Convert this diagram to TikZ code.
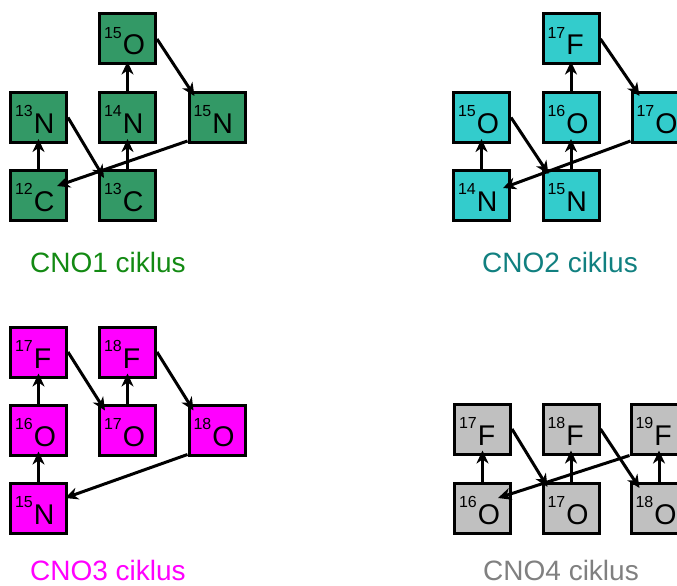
\documentclass[tikz,border=0pt]{standalone}
\usepackage{fontspec}
\setmainfont{Liberation Sans}
\usetikzlibrary{arrows.meta,calc}
\definecolor{boxgreen}{HTML}{339966}
\definecolor{boxcyan}{HTML}{33CCCC}
\definecolor{boxmag}{HTML}{FF00FF}
\definecolor{boxgray}{HTML}{C0C0C0}
\definecolor{labgreen}{HTML}{138A13}
\definecolor{labteal}{HTML}{118080}
\definecolor{labmag}{HTML}{FF00FF}
\definecolor{labgray}{HTML}{808080}
\newcommand\myiso[2]{\makebox[47pt][l]{\raisebox{17pt}{\fontsize{16}{16}\selectfont #1}\kern1pt#2}}
\tikzset{
  nucbox/.style={draw=black, line width=3pt, minimum width=56pt, minimum height=50pt,
    inner sep=0pt, text height=32pt, text depth=0pt, font=\fontsize{28.5}{28.5}\selectfont},
  rx/.style={line width=3pt, -{Stealth[length=13pt,width=12pt,inset=4pt]}},
  cyc/.style={anchor=base, font=\fontsize{28}{28}\selectfont}
}
\begin{document}
\begin{tikzpicture}[x=1pt,y=-1pt]
\useasboundingbox (0,0) rectangle (677,586);
% CNO1
\begin{scope}[every node/.style={nucbox, fill=boxgreen}]
\node (O15a) at (127.5,39) {\myiso{15}{O}};
\node (N13a) at (38.5,117.5) {\myiso{13}{N}};
\node (N14a) at (127.5,117.5) {\myiso{14}{N}};
\node (N15a) at (217,117.5) {\myiso{15}{N}};
\node (C12a) at (38.5,195.5) {\myiso{12}{C}};
\node (C13a) at (127.5,195.5) {\myiso{13}{C}};
\end{scope}
\draw[rx] (C12a.north) -- ($(N13a.south)+(0,-5)$);
\draw[rx] (N13a.east) -- ($(C13a.north west)+(6,9)$);
\draw[rx] (C13a.north) -- ($(N14a.south)+(0,-5)$);
\draw[rx] (N14a.north) -- ($(O15a.south)+(0,-4)$);
\draw[rx] (O15a.east) -- ($(N15a.north west)+(7,5)$);
\draw[rx] ($(N15a.south west)+(0,-3)$) -- ($(C12a.north east)+(-11,17)$);
\node[cyc, text=labgreen] (L1) at (108,272) {CNO1 ciklus};
% CNO2
\begin{scope}[every node/.style={nucbox, fill=boxcyan}]
\node (F17b) at (571,39) {\myiso{17}{F}};
\node (O15b) at (481.5,117.5) {\myiso{15}{O}};
\node (O16b) at (571,117.5) {\myiso{16}{O}};
\node (O17b) at (660,117.5) {\myiso{17}{O}};
\node (N14b) at (481.5,195.5) {\myiso{14}{N}};
\node (N15b) at (571,195.5) {\myiso{15}{N}};
\end{scope}
\draw[rx] (N14b.north) -- ($(O15b.south)+(0,-5)$);
\draw[rx] (O15b.east) -- ($(N15b.north west)+(7,5)$);
\draw[rx] (N15b.north) -- ($(O16b.south)+(0,-5)$);
\draw[rx] (O16b.north) -- ($(F17b.south)+(0,-4)$);
\draw[rx] (F17b.east) -- ($(O17b.north west)+(9,5)$);
\draw[rx] ($(O17b.south west)+(0,-3)$) -- ($(N14b.north east)+(-8,19)$);
\node[cyc, text=labteal] (L2) at (560,272) {CNO2 ciklus};
% CNO3
\begin{scope}[every node/.style={nucbox, fill=boxmag}]
\node (F17c) at (38.5,352) {\myiso{17}{F}};
\node (F18c) at (127.5,352) {\myiso{18}{F}};
\node (O16c) at (38.5,430) {\myiso{16}{O}};
\node (O17c) at (127.5,430) {\myiso{17}{O}};
\node (O18c) at (217,430) {\myiso{18}{O}};
\node (N15c) at (38.5,508.5) {\myiso{15}{N}};
\end{scope}
\draw[rx] (N15c.north) -- ($(O16c.south)+(0,-5)$);
\draw[rx] (O16c.north) -- ($(F17c.south)+(0,-5)$);
\draw[rx] (F17c.east) -- ($(O17c.north west)+(7,7)$);
\draw[rx] (O17c.north) -- ($(F18c.south)+(0,-5)$);
\draw[rx] (F18c.east) -- ($(O18c.north west)+(6,7)$);
\draw[rx] ($(O18c.south west)+(0,-2)$) -- ($(N15c.north east)+(-3,16)$);
\node[cyc, text=labmag] (L3) at (108,580.5) {CNO3 ciklus};
% CNO4
\begin{scope}[every node/.style={nucbox, fill=boxgray}]
\node (F17d) at (482.5,429) {\myiso{17}{F}};
\node (F18d) at (571,429) {\myiso{18}{F}};
\node (F19d) at (659,429) {\myiso{19}{F}};
\node (O16d) at (482.5,508.5) {\myiso{16}{O}};
\node (O17d) at (571,508.5) {\myiso{17}{O}};
\node (O18d) at (659,508.5) {\myiso{18}{O}};
\end{scope}
\draw[rx] (O16d.north) -- ($(F17d.south)+(0,-5)$);
\draw[rx] (F17d.east) -- ($(O17d.north west)+(6,5)$);
\draw[rx] (O17d.north) -- ($(F18d.south)+(0,-5)$);
\draw[rx] (F18d.east) -- ($(O18d.north west)+(10,6)$);
\draw[rx] (O18d.north) -- ($(F19d.south)+(0,-5)$);
\draw[rx] (F19d.south west) -- ($(O16d.north east)+(-14,16)$);
\node[cyc, text=labgray] (L4) at (561,580.5) {CNO4 ciklus};
\end{tikzpicture}
\end{document}
